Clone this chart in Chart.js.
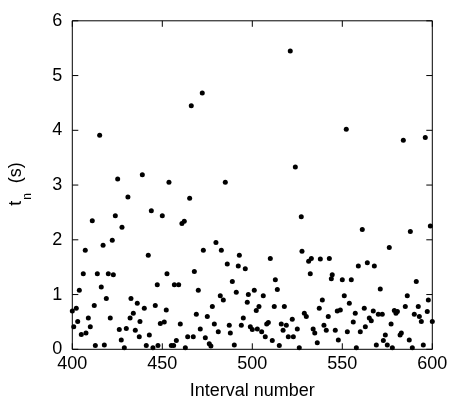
<!DOCTYPE html>
<html>
<head>
<meta charset="utf-8">
<title>Interval scatter</title>
<script src="https://cdn.jsdelivr.net/npm/chart.js"></script>
<style>
  html, body { margin: 0; padding: 0; background: #fff; }
  #wrap { position: relative; width: 452px; height: 404px; }
</style>
</head>
<body>
<div id="wrap"><canvas id="chart"></canvas></div>
<script>
// interval number (x) and t_n in seconds (y)
const intervals = [
  400.0, 400.8, 402.2, 403.0, 403.9, 405.0, 406.1, 407.2, 407.6, 408.9,
  410.0, 411.1, 412.2, 412.8, 413.9, 415.2, 416.1, 417.1, 417.8, 418.9,
  420.0, 421.1, 422.2, 422.8, 423.9, 425.2, 426.1, 427.2, 427.6, 428.9,
  430.0, 430.9, 432.1, 432.6, 433.9, 435.0, 436.1, 437.2, 437.6, 438.9,
  440.0, 441.1, 442.2, 442.8, 443.9, 444.8, 446.1, 447.2, 447.6, 448.9,
  450.0, 451.1, 452.2, 452.6, 453.7, 455.0, 456.3, 456.7, 457.8, 459.1,
  460.0, 460.9, 462.2, 462.8, 464.1, 465.2, 466.1, 467.2, 467.8, 468.9,
  470.0, 471.1, 472.2, 472.8, 473.9, 475.0, 476.1, 477.0, 477.8, 478.9,
  479.8, 481.1, 482.2, 482.8, 483.9, 485.0, 486.1, 487.2, 487.8, 488.9,
  490.0, 491.1, 492.2, 492.8, 493.9, 495.0, 496.1, 497.2, 497.8, 498.9,
  500.0, 501.1, 502.2, 502.8, 503.7, 505.2, 506.1, 507.2, 508.0, 508.9,
  510.0, 511.1, 512.2, 512.8, 513.9, 515.0, 516.1, 517.1, 517.8, 518.9,
  520.0, 521.1, 522.2, 522.8, 523.9, 525.0, 526.1, 527.2, 527.6, 528.9,
  530.0, 531.3, 532.2, 532.8, 533.8, 534.7, 536.1, 537.2, 537.8, 538.9,
  539.8, 541.1, 542.2, 542.8, 543.9, 544.4, 546.1, 547.2, 547.8, 548.9,
  550.0, 551.1, 552.2, 552.8, 553.9, 555.0, 556.1, 557.2, 557.8, 558.9,
  560.0, 561.1, 562.2, 562.8, 563.9, 565.0, 566.1, 567.2, 567.8, 568.9,
  570.0, 571.1, 572.2, 572.8, 573.9, 575.0, 576.1, 577.1, 577.8, 578.9,
  579.8, 580.6, 582.1, 582.8, 583.9, 585.0, 586.1, 587.2, 587.8, 588.9,
  590.0, 591.1, 592.2, 592.8, 593.9, 595.0, 596.1, 597.2, 597.8, 598.9,
  600.0
];
const tn = [
  0.70, 0.41, 0.75, 0.51, 1.08, 0.27, 1.38, 1.81, 0.30, 0.57,
  0.41, 2.35, 0.80, 0.07, 1.38, 3.91, 1.14, 1.90, 0.08, 0.93,
  1.38, 0.57, 1.99, 1.36, 2.44, 3.11, 0.36, 0.17, 2.23, 0.03,
  0.38, 2.78, 0.57, 0.93, 0.66, 0.35, 0.84, 0.23, 0.51, 3.19,
  0.75, 0.07, 1.72, 0.26, 2.53, 0.03, 0.80, 1.18, 0.07, 0.47,
  2.44, 0.50, 0.72, 1.38, 3.05, 0.07, 0.07, 1.18, 0.16, 1.18,
  0.46, 2.30, 2.34, 0.03, 0.23, 2.76, 4.45, 0.23, 1.42, 0.64,
  1.08, 0.37, 4.68, 1.81, 0.21, 0.60, 0.10, 0.06, 0.78, 0.46,
  1.95, 0.32, 0.98, 1.81, 0.90, 3.05, 1.56, 0.44, 0.30, 1.24,
  0.08, 1.04, 1.52, 1.72, 0.44, 0.57, 1.47, 0.86, 1.00, 0.41,
  0.36, 1.08, 0.71, 0.37, 0.78, 0.32, 0.98, 0.23, 0.46, 0.49,
  1.66, 0.16, 0.78, 1.27, 1.09, 0.07, 0.46, 0.35, 0.78, 0.44,
  0.23, 5.45, 0.55, 0.23, 3.33, 0.37, 0.03, 2.42, 1.79, 0.66,
  0.60, 1.61, 1.38, 1.66, 0.37, 0.30, 0.12, 0.75, 1.65, 0.90,
  0.44, 0.35, 0.60, 1.66, 1.29, 1.36, 0.35, 0.70, 0.17, 0.72,
  1.27, 0.98, 4.02, 0.32, 0.84, 1.27, 0.50, 0.66, 0.03, 1.52,
  0.32, 2.19, 0.75, 0.41, 1.58, 0.57, 0.52, 0.70, 1.52, 0.08,
  0.64, 1.10, 0.64, 0.16, 0.26, 0.08, 1.86, 0.46, 0.03, 0.71,
  0.66, 0.69, 0.26, 0.30, 3.82, 0.78, 0.98, 0.17, 2.15, 0.03,
  0.64, 1.24, 0.78, 0.60, 0.51, 0.08, 3.87, 0.69, 0.90, 2.25,
  0.51
];
const xTicks = [400, 450, 500, 550, 600];
const yTicks = [0, 1, 2, 3, 4, 5, 6];

const FONT = "'Liberation Sans', Arial, Helvetica, sans-serif";

// box around the plot with short inward ticks on all four sides
const framePlugin = {
  id: 'frame',
  afterDatasetsDraw(chart) {
    const { ctx, chartArea: a, scales } = chart;
    const len = 6;
    ctx.save();
    ctx.strokeStyle = '#000';
    ctx.lineWidth = 1;
    ctx.beginPath();
    ctx.rect(a.left, a.top, a.right - a.left, a.bottom - a.top);
    xTicks.forEach(v => {
      const px = scales.x.getPixelForValue(v);
      ctx.moveTo(px, a.bottom); ctx.lineTo(px, a.bottom - len);
      ctx.moveTo(px, a.top); ctx.lineTo(px, a.top + len);
    });
    yTicks.forEach(v => {
      const py = scales.y.getPixelForValue(v);
      ctx.moveTo(a.left, py); ctx.lineTo(a.left + len, py);
      ctx.moveTo(a.right, py); ctx.lineTo(a.right - len, py);
    });
    ctx.stroke();
    ctx.restore();
  }
};

// y title "t_n (s)" with a real subscript
const yTitlePlugin = {
  id: 'ytitle',
  afterDraw(chart) {
    const { ctx } = chart;
    ctx.save();
    ctx.translate(21, 184);
    ctx.rotate(-Math.PI / 2);
    ctx.fillStyle = '#000';
    ctx.textBaseline = 'alphabetic';
    ctx.font = '18px ' + FONT;
    const tW = ctx.measureText('t').width;
    ctx.font = '12px ' + FONT;
    const nW = ctx.measureText('n').width;
    ctx.font = '18px ' + FONT;
    const rest = '  (s)';
    const rW = ctx.measureText(rest).width;
    let x = -(tW + nW + 1 + rW) / 2;
    ctx.fillText('t', x, 0);
    x += tW + 1;
    ctx.font = '12px ' + FONT;
    ctx.fillText('n', x, 10);
    x += nW;
    ctx.font = '18px ' + FONT;
    ctx.fillText(rest, x, 0);
    ctx.restore();
  }
};

new Chart(document.getElementById('chart'), {
  type: 'scatter',
  data: {
    datasets: [{
      data: intervals.map((x, i) => ({ x: x, y: tn[i] })),
      backgroundColor: '#000',
      borderColor: '#000',
      pointRadius: 2.5,
      pointBorderWidth: 0,
      clip: false
    }]
  },
  options: {
    responsive: true,
    maintainAspectRatio: false,
    animation: false,
    layout: { padding: { top: 15, right: 19.7, left: 0, bottom: 0 } },
    plugins: { legend: { display: false }, tooltip: { enabled: false } },
    scales: {
      x: {
        type: 'linear',
        min: 400, max: 600,
        afterBuildTicks: s => { s.ticks = xTicks.map(v => ({ value: v })); },
        afterFit: s => { s.height = 54.7; },
        grid: { display: false, drawTicks: false },
        border: { display: false },
        ticks: { color: '#000', padding: 4, maxRotation: 0, font: { family: FONT, size: 18 } },
        title: { display: true, text: 'Interval number', color: '#000', padding: { top: 0, bottom: 2 }, font: { family: FONT, size: 18 } }
      },
      y: {
        type: 'linear',
        min: 0, max: 6,
        afterBuildTicks: s => { s.ticks = yTicks.map(v => ({ value: v })); },
        afterFit: s => { s.width = 72.3; },
        grid: { display: false, drawTicks: false },
        border: { display: false },
        ticks: { color: '#000', padding: 10, font: { family: FONT, size: 18 } }
      }
    }
  },
  plugins: [framePlugin, yTitlePlugin]
});
</script>
</body>
</html>
